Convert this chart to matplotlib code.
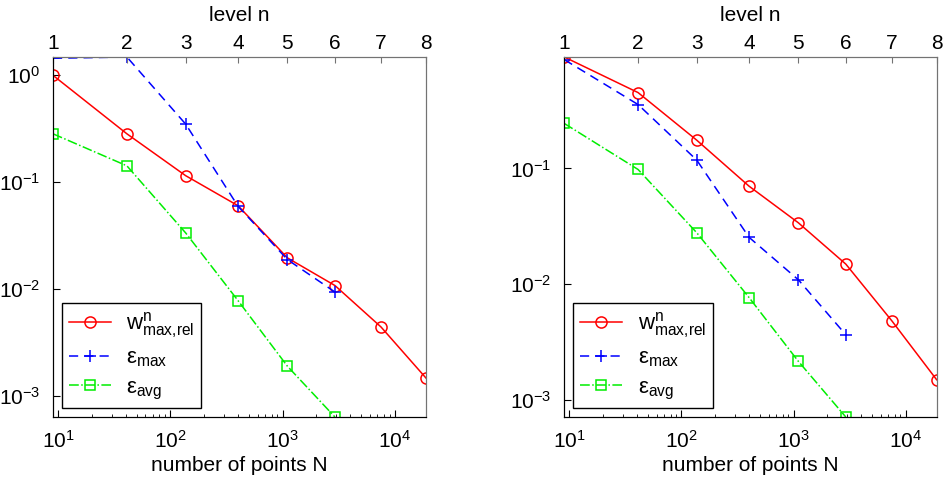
import matplotlib
matplotlib.use("Agg")
import matplotlib.pyplot as plt
import numpy as np

# number of points per level
N = [9, 41, 137, 401, 1105, 2929, 7537, 18945]
levels = ['1', '2', '3', '4', '5', '6', '7', '8']

# left panel
w_left = [0.99, 0.281, 0.114, 0.0597, 0.0194, 0.0107, 0.00438, 0.00146]
emax_left = [1.43, 1.47, 0.346, 0.059, 0.0187, 0.0093]
eavg_left = [0.281, 0.141, 0.0332, 0.00773, 0.00188, 0.00063]

# right panel
w_right = [0.92, 0.453, 0.1755, 0.0703, 0.0339, 0.0149, 0.00482, 0.00149]
emax_right = [0.873, 0.357, 0.118, 0.0254, 0.0109, 0.00365]
eavg_right = [0.245, 0.098, 0.0278, 0.00766, 0.00215, 0.00071]

labels = [r'$w^{n}_{max{,}rel}$', r'$\varepsilon_{max}$', r'$\varepsilon_{avg}$']

plt.rcParams['font.family'] = ['Liberation Sans', 'DejaVu Sans']
plt.rcParams['mathtext.default'] = 'regular'
plt.rcParams['font.size'] = 15

fig = plt.figure(figsize=(9.43, 4.79), dpi=100)


def panel(rect, w, emax, eavg):
    ax = fig.add_axes(rect)
    ax.plot(N[:len(w)], w, '-o', color='red', lw=1.1, ms=8, mfc='none', mew=1.1)
    ax.plot(N[:len(emax)], emax, '--+', color='blue', lw=1.1, ms=9, mew=1.1,
            dashes=(6, 4))
    ax.plot(N[:len(eavg)], eavg, '-.s', color='#00ee00', lw=1.1, ms=6.5,
            mfc='none', mew=1.1)
    ax.set_xscale('log')
    ax.set_yscale('log')
    ax.set_xlim(N[0], N[-1])
    ymin = min(w + emax + eavg)
    ymax = max(w + emax + eavg)
    ax.set_ylim(ymin, ymax)
    ax.tick_params(which='both', direction='in', top=False, right=False,
                   labelsize=15)
    ax.tick_params(which='major', length=5, pad=9)
    ax.tick_params(which='minor', length=2.5)
    for s in ['top', 'right']:
        ax.spines[s].set_color('0.45')
    ax.set_xlabel('number of points N', fontsize=15, labelpad=3)

    top = ax.twiny()
    top.set_xscale('log')
    top.set_xlim(ax.get_xlim())
    top.set_xticks(N)
    top.set_xticklabels(levels)
    top.minorticks_off()
    top.tick_params(direction='in', length=4, labelsize=15, pad=3,
                    color='0.45')
    for s in ['top', 'right']:
        top.spines[s].set_color('0.45')
    top.set_xlabel('level n', fontsize=15, labelpad=9)

    leg = ax.legend(labels, loc='lower left', bbox_to_anchor=(0.024, 0.024),
                    borderaxespad=0, fancybox=False, edgecolor='black',
                    framealpha=1, fontsize=16, handlelength=1.9,
                    labelspacing=0.35, borderpad=0.3, handletextpad=0.7)
    leg.get_frame().set_linewidth(1.0)
    return ax


panel([0.0562, 0.1294, 0.3955, 0.7516], w_left, emax_left, eavg_left)
panel([0.5984, 0.1294, 0.3949, 0.7516], w_right, emax_right, eavg_right)

fig.savefig('out.png', dpi=100)
